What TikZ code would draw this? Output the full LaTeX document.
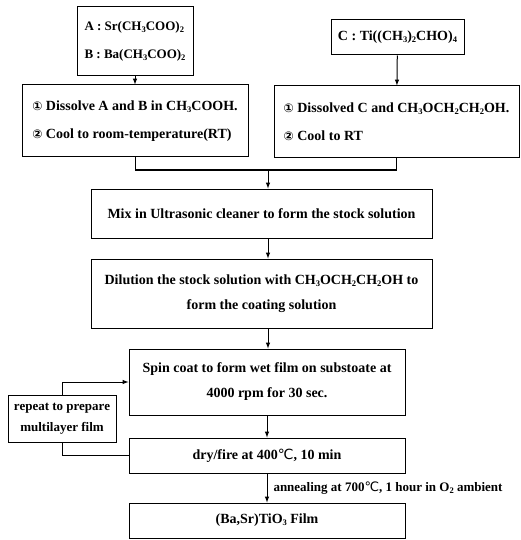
\documentclass[tikz,border=0pt]{standalone}
\usepackage{fontspec}
\setmainfont{Liberation Serif}
\newfontfamily\symfont{DejaVu Sans}
\newcommand{\circnum}[1]{{\symfont\fontsize{12}{12}\selectfont #1}}
\newcommand{\degC}{{\symfont\mdseries ℃}}
\newcommand{\chemsub}[1]{\raisebox{-0.3ex}{\fontsize{8.5}{8.5}\selectfont #1}}
\begin{document}
\begin{tikzpicture}[x=1pt, y=-1pt,
	box/.style={draw, line width=1pt, inner sep=0pt, align=center, font=\bfseries\fontsize{14}{25}\selectfont},
	listbox/.style={box, align=left, font=\bfseries\fontsize{14}{28}\selectfont},
	link/.style={line width=1pt},
	flow/.style={line width=1pt, -latex}]
	\useasboundingbox (0,0) rectangle (521,540);
		% starting materials
		\node [listbox, minimum width=116, minimum height=69, font=\bfseries\fontsize{13}{28}\selectfont] (ab) at (135,41.5) {A : Sr(CH\chemsub{3}COO)\chemsub{2}\\B : Ba(CH\chemsub{3}COO)\chemsub{2}};
		\node [box, minimum width=133, minimum height=35] (c) at (397.5,37.5) {C : Ti((CH\chemsub{3})\chemsub{2}CHO)\chemsub{4}};
		\node [listbox, minimum width=226, minimum height=72] (dissab) at (135,121) {\circnum{①} Dissolve A and B in CH\chemsub{3}COOH.\\\circnum{②} Cool to room-temperature(RT)};
		\node [listbox, minimum width=245, minimum height=72] (dissc) at (396.5,122) {\circnum{①} Dissolved C and CH\chemsub{3}OCH\chemsub{2}CH\chemsub{2}OH.\\\circnum{②} Cool to RT};
		\draw[flow] (ab) to (dissab);
		\draw[flow] (c) to (dissc);
		% merge
		\coordinate (join) at (268,170);
		\draw[link] (dissab.south) |- (join);
		\draw[link] (dissc.south) |- (join);
		\node [box, minimum width=341, minimum height=49] (mix) at (261.5,213.5) {Mix in Ultrasonic cleaner to form the stock solution};
		\node [box, minimum width=341, minimum height=69] (dil) at (261.5,293.5) {Dilution the stock solution with CH\chemsub{3}OCH\chemsub{2}CH\chemsub{2}OH to\\form the coating solution};
		\draw[flow] (join) to (join |- mix.north);
		\draw[flow] (join |- mix.south) to (join |- dil.north);
		% film
		\node [box, minimum width=276, minimum height=66] (spin) at (267,382) {Spin coat to form wet film on substoate at\\4000 rpm for 30 sec.};
		\node [box, minimum width=276, minimum height=35] (dry) at (267,455.5) {dry/fire at 400\degC, 10 min};
		\node [box, minimum width=276, minimum height=35] (film) at (267,520.5) {(Ba,Sr)TiO\chemsub{3} Film};
		\draw[flow] (join |- dil.south) to (join |- spin.north);
		\draw[flow] (spin) to (dry);
		\draw[flow] (dry) to node [right, font=\bfseries\fontsize{13}{14}\selectfont, inner sep=6pt] {annealing at 700\degC, 1 hour in O\chemsub{2} ambient} (film);
		% loop
		\node [box, minimum width=108, minimum height=47, font=\bfseries\fontsize{13}{21}\selectfont] (rep) at (62,418.5) {repeat to prepare\\multilayer film};
		\draw[link] (dry.west) -| (rep.south);
		\draw[flow] (rep.north) |- (spin.west);
\end{tikzpicture}
\end{document}
